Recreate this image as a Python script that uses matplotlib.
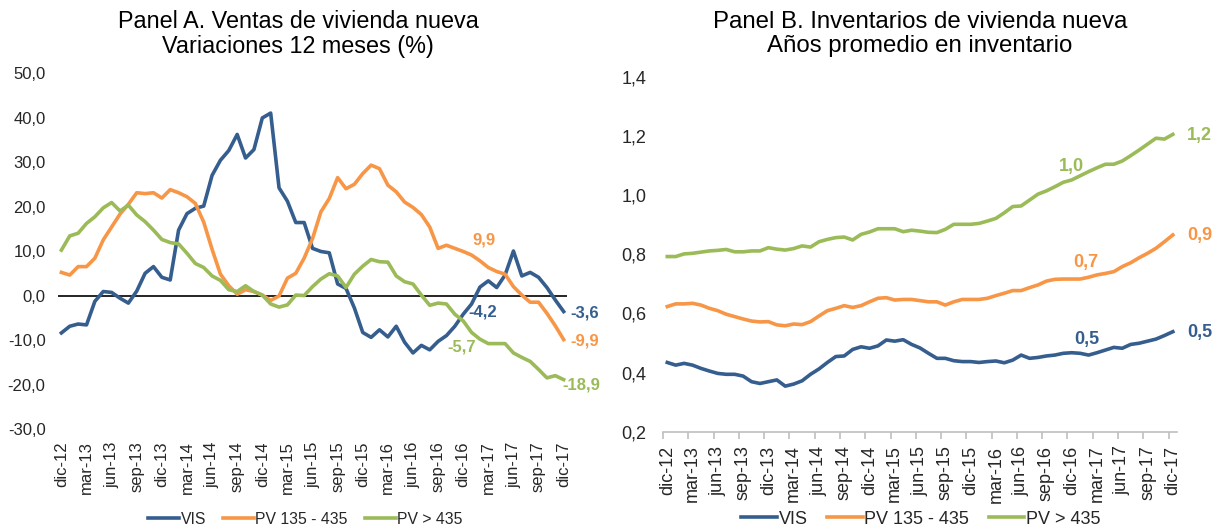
import matplotlib
matplotlib.use('Agg')
import matplotlib.pyplot as plt
from matplotlib.ticker import FuncFormatter

plt.rcParams['font.family'] = ['Liberation Sans', 'DejaVu Sans']

# colores de las series (estilo Excel)
BLUE = '#355E8F'
ORANGE = '#F79646'
GREEN = '#9BBB59'

# tick labels (cada 3 meses, dic-12 a dic-17)
tick_labels = ['dic-12', 'mar-13', 'jun-13', 'sep-13', 'dic-13', 'mar-14', 'jun-14',
               'sep-14', 'dic-14', 'mar-15', 'jun-15', 'sep-15', 'dic-15', 'mar-16',
               'jun-16', 'sep-16', 'dic-16', 'mar-17', 'jun-17', 'sep-17', 'dic-17']

# Panel A - ventas, variacion 12 meses (%)
vis_a = [-8.4, -6.9, -6.4, -6.6, -1.3, 0.9, 0.7, -0.6, -1.7, 1.0,
         5.0, 6.5, 4.1, 3.5, 14.7, 18.4, 19.6, 20.1, 27.0, 30.4,
         32.6, 36.2, 30.9, 32.8, 39.9, 41.0, 24.2, 21.2, 16.4, 16.4,
         10.6, 9.9, 9.6, 2.6, 1.6, -2.8, -8.3, -9.4, -7.7, -9.3,
         -6.9, -10.5, -12.9, -11.2, -12.2, -10.3, -9.0, -6.9, -4.2, -1.9,
         1.9, 3.3, 1.8, 4.6, 10.0, 4.4, 5.2, 4.1, 1.8, -1.0, -3.6]
pv135_a = [5.2, 4.6, 6.5, 6.5, 8.4, 12.5, 15.4, 18.3, 20.5, 23.1,
           22.9, 23.1, 21.9, 23.8, 23.1, 22.2, 20.7, 16.5, 10.4, 4.8,
           2.2, 0.3, 1.3, 0.9, 0.1, -1.1, -0.1, 3.9, 5.0, 8.4,
           12.8, 18.8, 21.8, 26.5, 24.0, 25.0, 27.4, 29.3, 28.5, 24.8,
           23.3, 21.0, 19.8, 18.2, 15.4, 10.6, 11.3, 10.6, 9.9, 9.1,
           7.8, 6.3, 5.4, 4.8, 2.0, 0.1, -1.5, -1.5, -4.0, -6.8, -9.9]
pv435_a = [10.2, 13.4, 14.0, 16.2, 17.7, 19.7, 20.9, 19.0, 20.3, 18.1,
           16.6, 14.7, 12.6, 11.9, 11.6, 9.5, 7.2, 6.3, 4.4, 3.4,
           1.3, 0.9, 2.2, 0.9, 0.1, -1.9, -2.6, -2.1, 0.1, 0.0,
           2.0, 3.7, 4.9, 4.4, 1.8, 4.8, 6.6, 8.1, 7.6, 7.5,
           4.4, 3.1, 2.6, 0.1, -2.2, -1.7, -1.9, -4.2, -5.7, -8.3,
           -9.8, -10.8, -10.8, -10.8, -12.9, -13.9, -14.8, -16.6, -18.5, -18.0, -18.9]

# Panel B - inventarios, anos promedio
vis_b = [0.434, 0.425, 0.431, 0.425, 0.414, 0.405, 0.397, 0.394, 0.394, 0.388,
         0.369, 0.363, 0.369, 0.375, 0.354, 0.361, 0.372, 0.394, 0.412, 0.434,
         0.454, 0.456, 0.478, 0.487, 0.482, 0.490, 0.510, 0.506, 0.511, 0.495,
         0.483, 0.465, 0.448, 0.448, 0.440, 0.437, 0.437, 0.434, 0.437, 0.439,
         0.433, 0.442, 0.459, 0.448, 0.451, 0.456, 0.459, 0.465, 0.467, 0.465,
         0.459, 0.467, 0.476, 0.485, 0.482, 0.495, 0.499, 0.506, 0.513, 0.525, 0.538]
pv135_b = [0.623, 0.632, 0.632, 0.634, 0.628, 0.617, 0.609, 0.597, 0.589, 0.581,
           0.574, 0.571, 0.572, 0.561, 0.558, 0.564, 0.562, 0.572, 0.591, 0.609,
           0.617, 0.626, 0.620, 0.626, 0.639, 0.651, 0.653, 0.645, 0.647, 0.647,
           0.643, 0.639, 0.639, 0.628, 0.639, 0.647, 0.647, 0.647, 0.651, 0.660,
           0.668, 0.677, 0.677, 0.687, 0.696, 0.709, 0.715, 0.716, 0.716, 0.716,
           0.722, 0.730, 0.735, 0.741, 0.758, 0.771, 0.788, 0.803, 0.820, 0.842, 0.865]
pv435_b = [0.792, 0.792, 0.801, 0.803, 0.807, 0.811, 0.813, 0.816, 0.808, 0.808,
           0.811, 0.811, 0.822, 0.817, 0.814, 0.819, 0.828, 0.824, 0.842, 0.850,
           0.856, 0.858, 0.848, 0.867, 0.875, 0.886, 0.886, 0.886, 0.876, 0.881,
           0.878, 0.874, 0.873, 0.884, 0.901, 0.901, 0.901, 0.904, 0.912, 0.921,
           0.940, 0.961, 0.963, 0.983, 1.003, 1.014, 1.028, 1.043, 1.051, 1.065,
           1.079, 1.092, 1.104, 1.104, 1.115, 1.133, 1.152, 1.172, 1.192, 1.189, 1.205]

series_names = ['VIS', 'PV 135 - 435', 'PV > 435']
x = list(range(len(vis_a)))
mid = 48  # dic-16

fig = plt.figure(figsize=(12.22, 5.31), dpi=100)
axA = fig.add_axes([0.0475, 0.192, 0.4165, 0.6705])
axB = fig.add_axes([0.5426, 0.187, 0.4206, 0.6686])

comma = FuncFormatter(lambda v, p: f'{v:.1f}'.replace('.', ','))
TXT = '#262626'
LW = 2.6


def lbl(ax, i, y, txt, color, dx, dy, ha='center', fs=12):
    # data label, offset in pixels
    ax.annotate(txt, xy=(i, y), xytext=(dx * 0.72, -dy * 0.72), textcoords='offset points',
                ha=ha, va='center', color=color, fontsize=fs, fontweight='bold')


# ---- Panel A
axA.axhline(0, color='black', linewidth=1.2, zorder=1)
axA.plot(x, vis_a, color=BLUE, linewidth=LW, label=series_names[0], zorder=3)
axA.plot(x, pv135_a, color=ORANGE, linewidth=LW, label=series_names[1], zorder=3)
axA.plot(x, pv435_a, color=GREEN, linewidth=LW, label=series_names[2], zorder=3)
axA.set_ylim(-30, 50)
axA.set_yticks(range(-30, 51, 10))
axA.yaxis.set_major_formatter(comma)
axA.set_xlim(-0.4, 60.4)
axA.set_xticks(range(0, 61, 3))
axA.set_xticklabels(tick_labels, rotation=90)
for s in axA.spines.values():
    s.set_visible(False)
axA.tick_params(axis='both', length=0, labelsize=12, colors=TXT)
axA.tick_params(axis='y', pad=9)
axA.tick_params(axis='x', pad=9)

lbl(axA, mid, pv135_a[mid], '9,9', ORANGE, 21, -11)
lbl(axA, mid, vis_a[mid], '-4,2', BLUE, 19, -2)
lbl(axA, mid, pv435_a[mid], '-5,7', GREEN, -2, 26)
lbl(axA, 60, vis_a[-1], '-3,6', BLUE, 7, 1, ha='left')
lbl(axA, 60, pv135_a[-1], '-9,9', ORANGE, 7, 1, ha='left')
lbl(axA, 60, pv435_a[-1], '-18,9', GREEN, -1, 5, ha='left')

# ---- Panel B
axB.plot(x, vis_b, color=BLUE, linewidth=LW, label=series_names[0])
axB.plot(x, pv135_b, color=ORANGE, linewidth=LW, label=series_names[1])
axB.plot(x, pv435_b, color=GREEN, linewidth=LW, label=series_names[2])
axB.set_ylim(0.2, 1.4)
axB.set_yticks([0.2, 0.4, 0.6, 0.8, 1.0, 1.2, 1.4])
axB.yaxis.set_major_formatter(comma)
axB.set_xlim(-0.5, 60.5)
axB.set_xticks(range(0, 61, 3))
axB.set_xticklabels(tick_labels, rotation=90)
axB.set_xticks([k - 0.5 for k in range(0, 61, 3)], minor=True)
for name, s in axB.spines.items():
    s.set_visible(name == 'bottom')
axB.spines['bottom'].set_color('#BFBFBF')
axB.spines['bottom'].set_linewidth(1.2)
axB.tick_params(axis='both', which='major', length=0, labelsize=13, colors=TXT)
axB.tick_params(axis='x', which='minor', length=5, width=1.2, color='#BFBFBF')
axB.tick_params(axis='y', pad=12)
axB.tick_params(axis='x', which='major', pad=10)

lbl(axB, mid, pv435_b[mid], '1,0', GREEN, 0, -13, fs=13)
lbl(axB, mid, pv135_b[mid], '0,7', ORANGE, 14, -17, fs=13)
lbl(axB, mid, vis_b[mid], '0,5', BLUE, 15, -13, fs=13)
lbl(axB, 60, pv435_b[-1], '1,2', GREEN, 14, 1, ha='left', fs=13)
lbl(axB, 60, pv135_b[-1], '0,9', ORANGE, 14, 1, ha='left', fs=13)
lbl(axB, 60, vis_b[-1], '0,5', BLUE, 14, 1, ha='left', fs=13)

# ---- titles
fig.text(298 / 1222, 1 - 34 / 531, 'Panel A. Ventas de vivienda nueva\nVariaciones 12 meses (%)',
         ha='center', va='center', fontsize=16.8, color='black', linespacing=1.12)
fig.text(920 / 1222, 1 - 34 / 531, 'Panel B. Inventarios de vivienda nueva\nAños promedio en inventario',
         ha='center', va='center', fontsize=17.3, color='black', linespacing=1.1)

# ---- legends
for ax, cx, fs in [(axA, 305.5 / 1222, 11.3), (axB, 921 / 1222, 13)]:
    ax.legend(loc='center', bbox_to_anchor=(cx, 1 - 519 / 531), bbox_transform=fig.transFigure,
              ncol=3, frameon=False, fontsize=fs, handlelength=1.95, handletextpad=0.1,
              columnspacing=1.1, labelcolor=TXT)

fig.savefig('out.png', dpi=100)
